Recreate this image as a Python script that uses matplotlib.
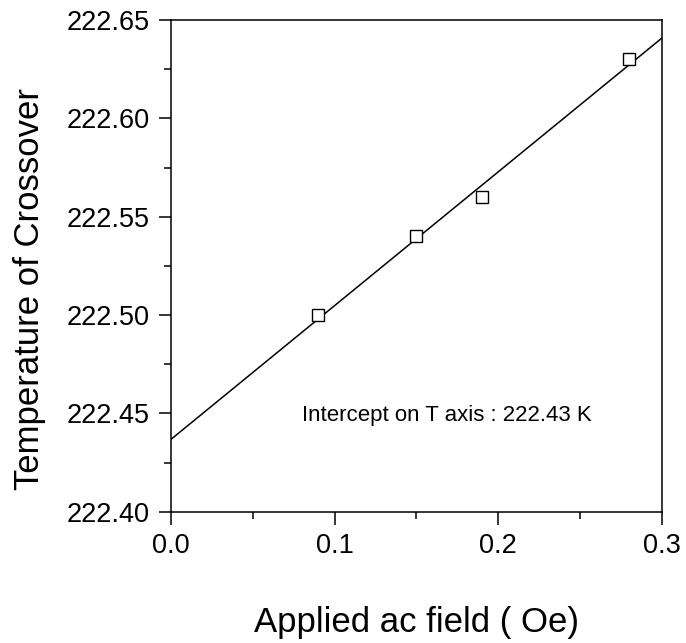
import numpy as np
import matplotlib
matplotlib.use("Agg")
import matplotlib.pyplot as plt
from matplotlib.ticker import MultipleLocator, FormatStrFormatter

plt.rcParams["font.family"] = ["Liberation Sans", "DejaVu Sans"]

# ---------------------------------------------------------------------------
field_oe = [0.09, 0.15, 0.19, 0.28]
t_cross = [222.50, 222.54, 222.56, 222.63]
note = "Intercept on T axis : 222.43 K"

# linear fit through the measured points
coeffs = np.polyfit(field_oe, t_cross, 1)
x_fit = np.array([0.0, 0.3])

fig = plt.figure(figsize=(6.86, 6.43), dpi=100)
ax = fig.add_axes([0.249, 0.204, 0.716, 0.765])

ax.plot(x_fit, np.polyval(coeffs, x_fit), "-", color="k", lw=1.1)
ax.plot(field_oe, t_cross, "s", mfc="white", mec="k", mew=1.0, ms=9)

ax.set_xlim(0.0, 0.3)
ax.set_ylim(222.40, 222.65)
ax.xaxis.set_major_locator(MultipleLocator(0.1))
ax.xaxis.set_minor_locator(MultipleLocator(0.05))
ax.yaxis.set_major_locator(MultipleLocator(0.05))
ax.yaxis.set_minor_locator(MultipleLocator(0.025))
ax.xaxis.set_major_formatter(FormatStrFormatter("%.1f"))
ax.yaxis.set_major_formatter(FormatStrFormatter("%.2f"))

ax.tick_params(which="major", direction="out", length=9, width=1.1,
               labelsize=19.5, pad=6)
ax.tick_params(which="minor", direction="out", length=5, width=1.1)
for sp in ax.spines.values():
    sp.set_linewidth(1.1)

ax.set_xlabel("Applied ac field ( Oe)", fontsize=25, labelpad=34)
ax.set_ylabel("Temperature of Crossover", fontsize=25)
ax.yaxis.set_label_coords(-0.255, 0.453)

ax.text(0.0802, 222.449, note, fontsize=16, ha="left", va="center")

fig.savefig("out.png", dpi=100)
